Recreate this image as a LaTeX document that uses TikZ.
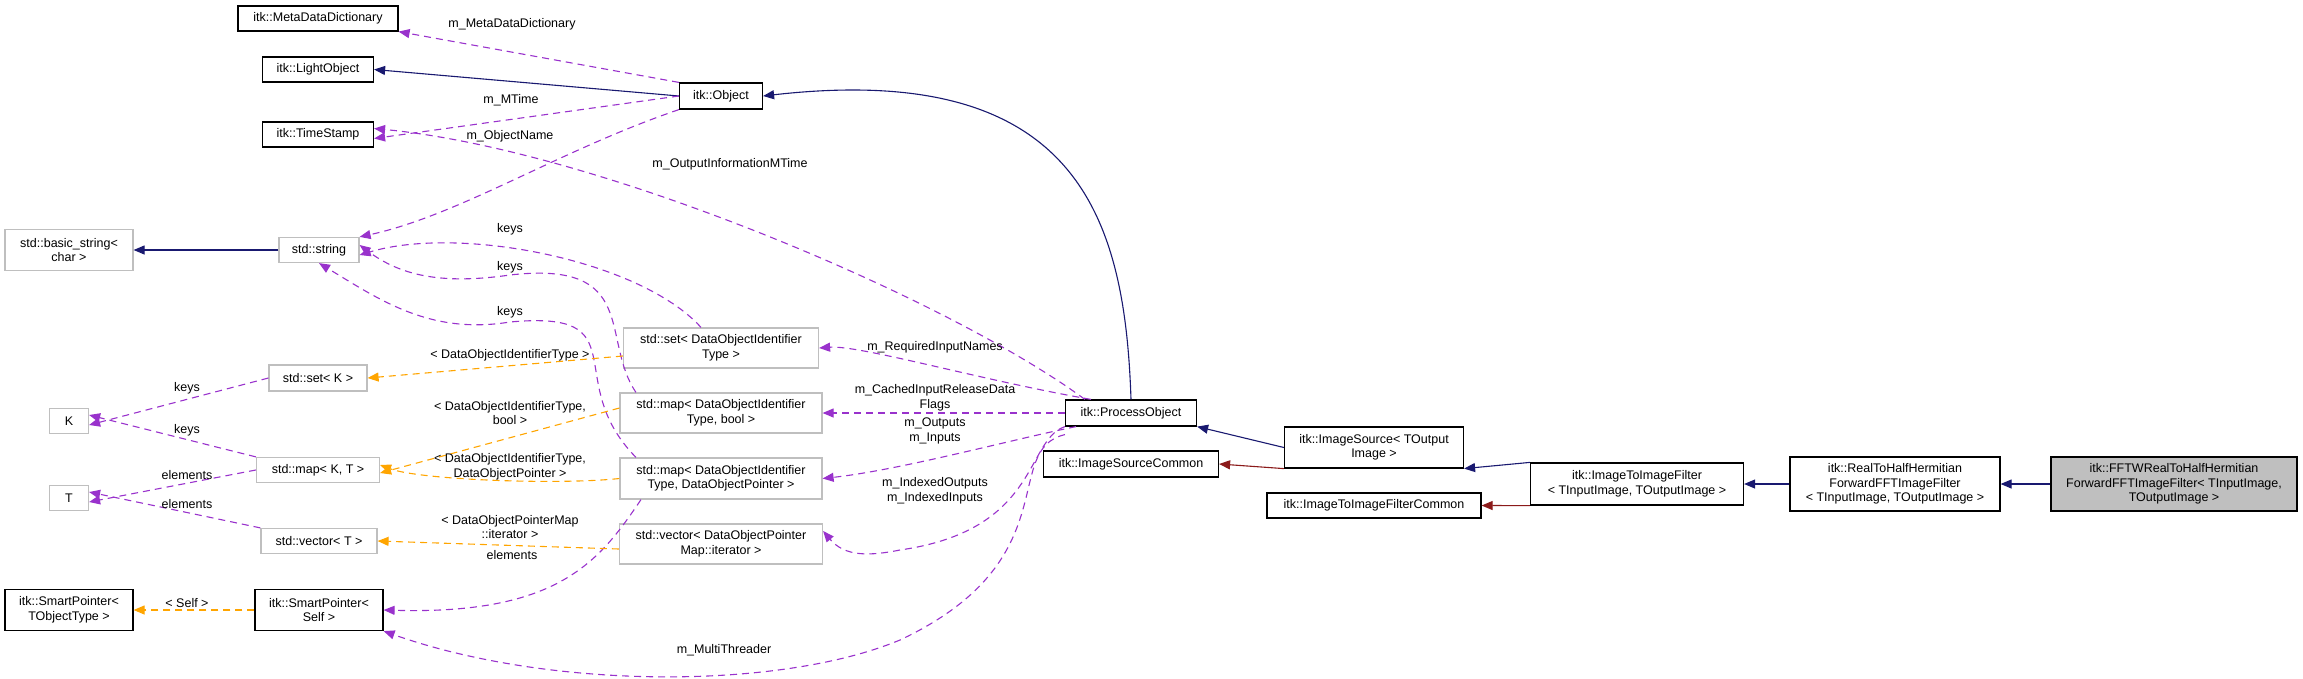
\documentclass[tikz,border=0pt]{standalone}
\usepackage{fontspec}
\setmainfont{Liberation Sans}
\usetikzlibrary{arrows.meta}
\definecolor{navy}{RGB}{25,25,112}
\definecolor{usecol}{RGB}{153,50,204}
\definecolor{tmplcol}{RGB}{255,165,0}
\definecolor{redcol}{RGB}{139,26,26}
\definecolor{grayb}{RGB}{191,191,191}
\begin{document}
\begin{tikzpicture}[x=1pt,y=-1pt,
  font=\fontsize{12.5}{14.5}\selectfont,
  box/.style={draw=black,line width=1.2pt,fill=white,inner sep=0pt,align=center},
  gbox/.style={draw=grayb,line width=1.2pt,fill=white,inner sep=0pt,align=center},
  tip/.style={-{Triangle[length=11pt,width=9pt]}},
  inh/.style={tip,draw=navy,line width=1.1pt},
  inhr/.style={tip,draw=redcol,line width=1.1pt},
  use/.style={tip,draw=usecol,line width=1.1pt,dash pattern=on 7pt off 5pt},
  tmpl/.style={tip,draw=tmplcol,line width=1.1pt,dash pattern=on 7pt off 5pt},
  lbl/.style={inner sep=0pt,align=center}]
\useasboundingbox (0,0) rectangle (2303,678);
% nodes
\node[box,minimum width=160,minimum height=25] (meta) at (318,18.5) {itk::MetaDataDictionary};
\node[box,minimum width=111,minimum height=25] (light) at (318,69.5) {itk::LightObject};
\node[box,minimum width=111,minimum height=25] (ts) at (318,134.5) {itk::TimeStamp};
\node[box,minimum width=83,minimum height=26] (obj) at (721,96) {itk::Object};
\node[gbox,minimum width=128,minimum height=41] (bstr) at (69,250) {std::basic\_string<\\char >};
\node[gbox,minimum width=80,minimum height=25] (str) at (319,250) {std::string};
\node[gbox,minimum width=98,minimum height=26] (setk) at (318,378) {std::set< K >};
\node[gbox,minimum width=39,minimum height=25] (K) at (69,421) {K};
\node[gbox,minimum width=123,minimum height=25] (mapkt) at (318,470) {std::map< K, T >};
\node[gbox,minimum width=39,minimum height=25] (T) at (69,498) {T};
\node[gbox,minimum width=116,minimum height=25] (vect) at (319,541) {std::vector< T >};
\node[box,minimum width=128,minimum height=41] (spt) at (69,610) {itk::SmartPointer<\\TObjectType >};
\node[box,minimum width=128,minimum height=41] (sps) at (319,610) {itk::SmartPointer<\\Self >};
\node[gbox,minimum width=195,minimum height=40] (setd) at (721,348) {std::set< DataObjectIdentifier\\Type >};
\node[gbox,minimum width=202,minimum height=40] (mapb) at (721,413) {std::map< DataObjectIdentifier\\Type, bool >};
\node[gbox,minimum width=202,minimum height=41] (mapd) at (721,478.5) {std::map< DataObjectIdentifier\\Type, DataObjectPointer >};
\node[gbox,minimum width=203,minimum height=40] (vecd) at (721,544) {std::vector< DataObjectPointer\\Map::iterator >};
\node[box,minimum width=131,minimum height=26] (po) at (1131,413) {itk::ProcessObject};
\node[box,minimum width=175,minimum height=26] (isc) at (1131,464) {itk::ImageSourceCommon};
\node[box,minimum width=179,minimum height=41] (is) at (1374,447.5) {itk::ImageSource< TOutput\\Image >};
\node[box,minimum width=214,minimum height=25] (itic) at (1374,505.5) {itk::ImageToImageFilterCommon};
\node[box,minimum width=213,minimum height=42] (iti) at (1637,484) {itk::ImageToImageFilter\\< TInputImage, TOutputImage >};
\node[box,minimum width=210,minimum height=54] (rth) at (1895,484) {itk::RealToHalfHermitian\\ForwardFFTImageFilter\\< TInputImage, TOutputImage >};
\node[box,fill=grayb,minimum width=246,minimum height=54] (fftw) at (2174,484) {itk::FFTWRealToHalfHermitian\\ForwardFFTImageFilter< TInputImage,\\TOutputImage >};
% inheritance
\draw[inh] (obj.west) -- (light.east);
\draw[inh] (str.west) -- (bstr.east);
\draw[inh] (po.north) .. controls (1125,220) and (1080,60) .. (obj.east);
\draw[inh] (is.west) -- (po.south east);
\draw[inh] (iti.north west) -- (is.south east);
\draw[inh] (rth.west) -- (iti.east);
\draw[inh] (fftw.west) -- (rth.east);
\draw[inhr] (is.south west) -- (isc.east);
\draw[inhr] (iti.south west) -- (itic.east);
% usage
\draw[use] (obj.north west) -- (meta.south east);
\node[lbl] (l1) at (512,24) {m\_MetaDataDictionary};
\draw[use] (obj.west) -- ([yshift=-4pt]ts.east);
\node[lbl] (l2) at (511,100) {m\_MTime};
\draw[use] (obj.south west) .. controls (560,150) and (460,215) .. (str.north east);
\node[lbl] (l3) at (510,136) {m\_ObjectName};
\draw[use] ([xshift=20pt]po.north west) .. controls (950,300) and (600,150) .. ([yshift=6pt]ts.east);
\node[lbl] (l4) at (730,164) {m\_OutputInformationMTime};
\draw[use] ([xshift=-20pt]setd.north) .. controls (640,260) and (460,225) .. ([yshift=-5pt]str.east);
\node[lbl] (l5) at (510,229) {keys};
\draw[use] ([xshift=-85pt]mapb.north) .. controls (600,340) and (640,260) .. (510,275) .. controls (440,285) and (400,275) .. ([yshift=5pt]str.east);
\node[lbl] (l6) at (510,267) {keys};
\draw[use] ([xshift=-85pt]mapd.north) .. controls (560,380) and (640,310) .. (510,322) .. controls (430,335) and (380,300) .. (str.south);
\node[lbl] (l7) at (510,312) {keys};
\draw[use] (setk.west) -- ([yshift=-4pt]K.east);
\node[lbl] (l8) at (187,388) {keys};
\draw[use] (mapkt.north west) -- ([yshift=6pt]K.east);
\node[lbl] (l9) at (187,430) {keys};
\draw[use] (mapkt.west) -- ([yshift=-4pt]T.east);
\node[lbl] (l10) at (187,475) {elements};
\draw[use] (vect.north west) -- ([yshift=6pt]T.east);
\node[lbl] (l11) at (187,504) {elements};
\draw[use] ([xshift=-80pt]mapd.south) .. controls (600,560) and (560,615) .. (sps.east);
\node[lbl] (l12) at (512,555) {elements};
\draw[use] ([xshift=-40pt]po.north) .. controls (980,380) and (860,345) .. (setd.east);
\node[lbl] (l13) at (935,347) {m\_RequiredInputNames};
\draw[use] (po.west) -- (mapb.east);
\node[lbl] (l14) at (935,398) {m\_CachedInputReleaseData\\Flags};
\draw[use] ([xshift=-55pt]po.south) .. controls (1010,440) and (900,470) .. (mapd.east);
\node[lbl] (l15) at (935,431) {m\_Outputs\\m\_Inputs};
\draw[use] (po.south west) .. controls (1025,440) and (1040,530) .. (900,550) .. controls (870,556) and (845,557) .. ([yshift=13pt]vecd.east);
\node[lbl] (l16) at (935,491) {m\_IndexedOutputs\\m\_IndexedInputs};
\draw[use] ([yshift=-8pt]po.south west) .. controls (1000,450) and (1070,560) .. (900,640) .. controls (780,690) and (550,690) .. (sps.south east);
\node[lbl] (l17) at (724,650) {m\_MultiThreader};
% template
\draw[tmpl] ([yshift=-8pt]setd.west) -- (setk.east);
\node[lbl] (l18) at (510,355) {< DataObjectIdentifierType >};
\draw[tmpl] ([yshift=5pt]mapb.west) -- ([yshift=-3pt]mapkt.east);
\node[lbl] (l19) at (510,413) {< DataObjectIdentifierType,\\bool >};
\draw[tmpl] (mapd.west) .. controls (560,485) and (420,480) .. ([yshift=5pt]mapkt.east);
\node[lbl] (l20) at (510,467) {< DataObjectIdentifierType,\\DataObjectPointer >};
\draw[tmpl] ([yshift=-5pt]vecd.west) -- (vect.east);
\node[lbl] (l21) at (510,527) {< DataObjectPointerMap\\::iterator >};
\draw[tmpl] (sps.west) -- (spt.east);
\node[lbl] (l22) at (187,603) {< Self >};
\end{tikzpicture}
\end{document}
